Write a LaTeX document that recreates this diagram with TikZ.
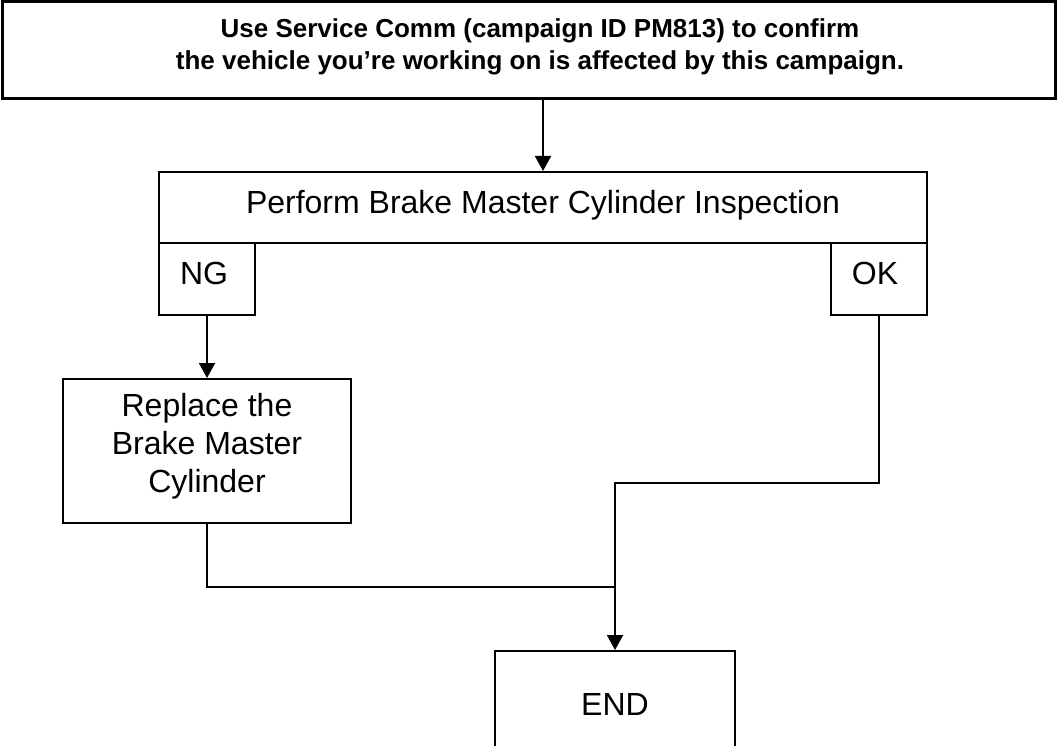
\documentclass[tikz,border=0pt]{standalone}
\usepackage{fontspec}
\setmainfont{Liberation Sans}
\usetikzlibrary{arrows.meta}
\tikzset{
  box/.style={draw=black, line width=2pt, rectangle, inner sep=0pt, align=center, font=\fontsize{32}{38}\selectfont},
  label/.style={inner sep=0pt, align=center, font=\fontsize{32}{38}\selectfont},
  topbox/.style={draw=black, line width=3pt, rectangle, inner sep=0pt},
  toptext/.style={inner sep=0pt, align=center, font=\bfseries\fontsize{26}{32}\selectfont},
  flow/.style={line width=2pt, draw=black},
  arr/.style={flow, -{Triangle[length=15pt,width=16pt]}}
}
\begin{document}
\begin{tikzpicture}[x=1pt,y=-1pt]
\useasboundingbox (0,0) rectangle (1057,746);
\clip (0,0) rectangle (1057,746);
\node[topbox, minimum width=1053pt, minimum height=97pt] (top) at (528.5,50.5) {};
\node[toptext] (toptxt) at (540,47)
  {Use Service Comm (campaign ID PM813) to confirm\\the vehicle you’re working on is affected by this campaign.};
\node[box, minimum width=768pt, minimum height=71pt] (insp) at (543,207.5) {};
\node[label] (insptxt) at (543,205) {Perform Brake Master Cylinder Inspection};
\node[box, minimum width=96pt, minimum height=72pt] (ng) at (207,279) {};
\node[label] (ngtxt) at (204,273) {NG};
\node[box, minimum width=96pt, minimum height=72pt] (ok) at (879,279) {};
\node[label] (oktxt) at (875,273) {OK};
\node[box, minimum width=288pt, minimum height=144pt] (repl) at (207,451) {};
\node[label] (repltxt) at (207,446) {Replace the\\Brake Master\\Cylinder};
\node[box, minimum width=240pt, minimum height=118pt] (end) at (615,710) {};
\node[label] (endtxt) at (615,704) {END};
\coordinate (merge) at (615,587);
\coordinate (bend) at (615,483);
\draw[arr] (insp.north |- top.south) -- (insp.north);
\draw[arr] (ng.south) -- (repl.north);
\draw[flow] (repl.south) -- (repl.south |- merge) -- (merge);
\draw[arr] (ok.south) -- (ok.south |- bend) -- (bend) -- (end.north);
\end{tikzpicture}
\end{document}
